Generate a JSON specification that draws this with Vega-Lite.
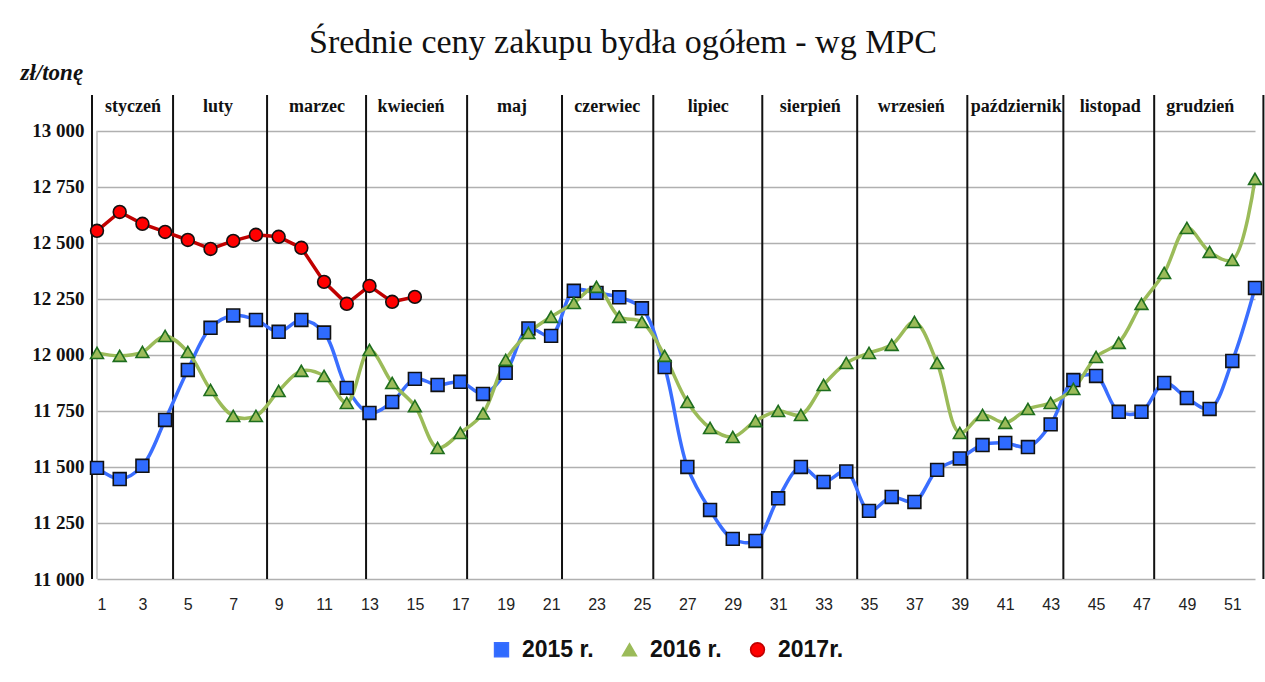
{
  "$schema": "https://vega.github.io/schema/vega-lite/v6.json",
  "autosize": {"type": "none"},
  "width": 1158,
  "height": 484,
  "padding": {"left": 97, "top": 95, "right": 10, "bottom": 103},
  "background": "white",
  "title": {
    "text": "Średnie ceny zakupu bydła ogółem - wg MPC",
    "font": "Liberation Serif",
    "fontSize": 34,
    "fontWeight": "normal",
    "color": "#111111",
    "anchor": "middle",
    "frame": "group",
    "baseline": "alphabetic",
    "offset": -26,
    "dx": -53
  },
  "config": {
    "view": {"stroke": null},
    "axis": {"labelColor": "#111111", "titleColor": "#111111"}
  },
  "datasets": {
    "prices": [
      {"week": 1, "series": "2015 r.", "value": 11496},
      {"week": 2, "series": "2015 r.", "value": 11446},
      {"week": 3, "series": "2015 r.", "value": 11505},
      {"week": 4, "series": "2015 r.", "value": 11710},
      {"week": 5, "series": "2015 r.", "value": 11933},
      {"week": 6, "series": "2015 r.", "value": 12121},
      {"week": 7, "series": "2015 r.", "value": 12176},
      {"week": 8, "series": "2015 r.", "value": 12156},
      {"week": 9, "series": "2015 r.", "value": 12103},
      {"week": 10, "series": "2015 r.", "value": 12156},
      {"week": 11, "series": "2015 r.", "value": 12100},
      {"week": 12, "series": "2015 r.", "value": 11853},
      {"week": 13, "series": "2015 r.", "value": 11741},
      {"week": 14, "series": "2015 r.", "value": 11790},
      {"week": 15, "series": "2015 r.", "value": 11893},
      {"week": 16, "series": "2015 r.", "value": 11866},
      {"week": 17, "series": "2015 r.", "value": 11880},
      {"week": 18, "series": "2015 r.", "value": 11826},
      {"week": 19, "series": "2015 r.", "value": 11920},
      {"week": 20, "series": "2015 r.", "value": 12118},
      {"week": 21, "series": "2015 r.", "value": 12085},
      {"week": 22, "series": "2015 r.", "value": 12286},
      {"week": 23, "series": "2015 r.", "value": 12277},
      {"week": 24, "series": "2015 r.", "value": 12257},
      {"week": 25, "series": "2015 r.", "value": 12208},
      {"week": 26, "series": "2015 r.", "value": 11946},
      {"week": 27, "series": "2015 r.", "value": 11500},
      {"week": 28, "series": "2015 r.", "value": 11308},
      {"week": 29, "series": "2015 r.", "value": 11179},
      {"week": 30, "series": "2015 r.", "value": 11170},
      {"week": 31, "series": "2015 r.", "value": 11360},
      {"week": 32, "series": "2015 r.", "value": 11500},
      {"week": 33, "series": "2015 r.", "value": 11433},
      {"week": 34, "series": "2015 r.", "value": 11480},
      {"week": 35, "series": "2015 r.", "value": 11304},
      {"week": 36, "series": "2015 r.", "value": 11366},
      {"week": 37, "series": "2015 r.", "value": 11344},
      {"week": 38, "series": "2015 r.", "value": 11487},
      {"week": 39, "series": "2015 r.", "value": 11538},
      {"week": 40, "series": "2015 r.", "value": 11598},
      {"week": 41, "series": "2015 r.", "value": 11607},
      {"week": 42, "series": "2015 r.", "value": 11589},
      {"week": 43, "series": "2015 r.", "value": 11690},
      {"week": 44, "series": "2015 r.", "value": 11888},
      {"week": 45, "series": "2015 r.", "value": 11906},
      {"week": 46, "series": "2015 r.", "value": 11746},
      {"week": 47, "series": "2015 r.", "value": 11746},
      {"week": 48, "series": "2015 r.", "value": 11875},
      {"week": 49, "series": "2015 r.", "value": 11808},
      {"week": 50, "series": "2015 r.", "value": 11759},
      {"week": 51, "series": "2015 r.", "value": 11973},
      {"week": 52, "series": "2015 r.", "value": 12299},
      {"week": 1, "series": "2016 r.", "value": 12009},
      {"week": 2, "series": "2016 r.", "value": 11996},
      {"week": 3, "series": "2016 r.", "value": 12013},
      {"week": 4, "series": "2016 r.", "value": 12085},
      {"week": 5, "series": "2016 r.", "value": 12013},
      {"week": 6, "series": "2016 r.", "value": 11844},
      {"week": 7, "series": "2016 r.", "value": 11728},
      {"week": 8, "series": "2016 r.", "value": 11728},
      {"week": 9, "series": "2016 r.", "value": 11839},
      {"week": 10, "series": "2016 r.", "value": 11929},
      {"week": 11, "series": "2016 r.", "value": 11906},
      {"week": 12, "series": "2016 r.", "value": 11786},
      {"week": 13, "series": "2016 r.", "value": 12022},
      {"week": 14, "series": "2016 r.", "value": 11875},
      {"week": 15, "series": "2016 r.", "value": 11772},
      {"week": 16, "series": "2016 r.", "value": 11585},
      {"week": 17, "series": "2016 r.", "value": 11652},
      {"week": 18, "series": "2016 r.", "value": 11739},
      {"week": 19, "series": "2016 r.", "value": 11978},
      {"week": 20, "series": "2016 r.", "value": 12098},
      {"week": 21, "series": "2016 r.", "value": 12170},
      {"week": 22, "series": "2016 r.", "value": 12232},
      {"week": 23, "series": "2016 r.", "value": 12304},
      {"week": 24, "series": "2016 r.", "value": 12170},
      {"week": 25, "series": "2016 r.", "value": 12147},
      {"week": 26, "series": "2016 r.", "value": 11996},
      {"week": 27, "series": "2016 r.", "value": 11790},
      {"week": 28, "series": "2016 r.", "value": 11674},
      {"week": 29, "series": "2016 r.", "value": 11634},
      {"week": 30, "series": "2016 r.", "value": 11705},
      {"week": 31, "series": "2016 r.", "value": 11750},
      {"week": 32, "series": "2016 r.", "value": 11732},
      {"week": 33, "series": "2016 r.", "value": 11866},
      {"week": 34, "series": "2016 r.", "value": 11964},
      {"week": 35, "series": "2016 r.", "value": 12009},
      {"week": 36, "series": "2016 r.", "value": 12045},
      {"week": 37, "series": "2016 r.", "value": 12147},
      {"week": 38, "series": "2016 r.", "value": 11964},
      {"week": 39, "series": "2016 r.", "value": 11652},
      {"week": 40, "series": "2016 r.", "value": 11732},
      {"week": 41, "series": "2016 r.", "value": 11697},
      {"week": 42, "series": "2016 r.", "value": 11759},
      {"week": 43, "series": "2016 r.", "value": 11786},
      {"week": 44, "series": "2016 r.", "value": 11848},
      {"week": 45, "series": "2016 r.", "value": 11991},
      {"week": 46, "series": "2016 r.", "value": 12054},
      {"week": 47, "series": "2016 r.", "value": 12228},
      {"week": 48, "series": "2016 r.", "value": 12366},
      {"week": 49, "series": "2016 r.", "value": 12567},
      {"week": 50, "series": "2016 r.", "value": 12460},
      {"week": 51, "series": "2016 r.", "value": 12424},
      {"week": 52, "series": "2016 r.", "value": 12786},
      {"week": 1, "series": "2017r.", "value": 12554},
      {"week": 2, "series": "2017r.", "value": 12638},
      {"week": 3, "series": "2017r.", "value": 12585},
      {"week": 4, "series": "2017r.", "value": 12549},
      {"week": 5, "series": "2017r.", "value": 12513},
      {"week": 6, "series": "2017r.", "value": 12473},
      {"week": 7, "series": "2017r.", "value": 12509},
      {"week": 8, "series": "2017r.", "value": 12536},
      {"week": 9, "series": "2017r.", "value": 12527},
      {"week": 10, "series": "2017r.", "value": 12478},
      {"week": 11, "series": "2017r.", "value": 12326},
      {"week": 12, "series": "2017r.", "value": 12228},
      {"week": 13, "series": "2017r.", "value": 12308},
      {"week": 14, "series": "2017r.", "value": 12237},
      {"week": 15, "series": "2017r.", "value": 12259}
    ],
    "months": [
      {"month": "styczeń", "center": 2.59},
      {"month": "luty", "center": 6.33},
      {"month": "marzec", "center": 10.69},
      {"month": "kwiecień", "center": 14.83},
      {"month": "maj", "center": 19.28},
      {"month": "czerwiec", "center": 23.47},
      {"month": "lipiec", "center": 27.92},
      {"month": "sierpień", "center": 32.41},
      {"month": "wrzesień", "center": 36.86},
      {"month": "październik", "center": 41.48},
      {"month": "listopad", "center": 45.63},
      {"month": "grudzień", "center": 49.59}
    ],
    "bounds": [
      {"boundary": 0.78}, {"boundary": 4.35}, {"boundary": 8.49}, {"boundary": 12.85},
      {"boundary": 17.3}, {"boundary": 21.48}, {"boundary": 25.5}, {"boundary": 30.3},
      {"boundary": 34.48}, {"boundary": 39.33}, {"boundary": 43.56}, {"boundary": 47.56},
      {"boundary": 52.37}
    ]
  },
  "layer": [
    {
      "data": {"name": "bounds"},
      "mark": {"type": "rule", "color": "#111111", "strokeWidth": 2},
      "encoding": {
        "x": {"field": "boundary", "type": "quantitative", "scale": {"domain": [1, 52], "nice": false, "zero": false},
          "axis": {"values": [1,3,5,7,9,11,13,15,17,19,21,23,25,27,29,31,33,35,37,39,41,43,45,47,49,51], "title": null, "grid": false, "domain": false, "ticks": false, "labelFont": "Liberation Sans", "labelFontSize": 16, "labelPadding": 17, "labelColor": "#222222"}}
      }
    },
    {
      "data": {"values": [{}]},
      "mark": {"type": "rule", "color": "#b0b0b0", "strokeWidth": 1.3},
      "encoding": {
        "x": {"datum": 1, "type": "quantitative"},
        "y": {"datum": 11000, "type": "quantitative"},
        "y2": {"datum": 13000}
      }
    },
    {
      "data": {"name": "months"},
      "mark": {"type": "text", "font": "Liberation Serif", "fontWeight": "bold", "fontSize": 18, "color": "#111111", "baseline": "middle"},
      "encoding": {
        "x": {"field": "center", "type": "quantitative"},
        "y": {"datum": 13107, "type": "quantitative"},
        "text": {"field": "month"}
      }
    },
    {
      "data": {"name": "prices"},
      "transform": [{"filter": "datum.series !== '2017r.'"}],
      "mark": {"type": "line", "interpolate": "catmull-rom", "strokeWidth": 3.5},
      "encoding": {
        "x": {"field": "week", "type": "quantitative"},
        "y": {"field": "value", "type": "quantitative",
          "scale": {"domain": [11000, 13160], "nice": false, "zero": false},
          "axis": {"values": [11000, 11250, 11500, 11750, 12000, 12250, 12500, 12750, 13000],
            "labelExpr": "replace(format(datum.value, ','), ',', ' ')",
            "grid": true, "gridColor": "#b0b0b0", "gridWidth": 1.3, "domain": false, "ticks": false,
            "labelFont": "Liberation Serif", "labelFontWeight": "bold", "labelFontSize": 19, "labelPadding": 13,
            "title": "zł/tonę", "titleAngle": 0, "titleX": -77, "titleY": -23, "titleAlign": "left", "titleBaseline": "middle",
            "titleFont": "Liberation Serif", "titleFontStyle": "italic", "titleFontWeight": "bold", "titleFontSize": 23}},
        "color": {"field": "series", "type": "nominal",
          "scale": {"domain": ["2015 r.", "2016 r.", "2017r."], "range": ["#3A6EFF", "#9BBB59", "#C00000"]},
          "legend": {"orient": "none", "legendX": 393, "legendY": 543, "direction": "horizontal", "title": null,
            "labelFont": "Liberation Sans", "labelFontWeight": "bold", "labelFontSize": 23, "labelColor": "#111111",
            "symbolSize": 190, "symbolStrokeWidth": 1.6, "labelOffset": 9, "columnPadding": 24,
            "encode": {"symbols": {"update": {"stroke": {"signal": "datum.value === '2016 r.' ? '#1E6E1E' : '#222222'"}, "strokeWidth": {"value": 1.6}}}}}},
        "detail": {"field": "series"}
      }
    },
    {
      "data": {"name": "prices"},
      "transform": [{"filter": "datum.series === '2017r.'"}],
      "mark": {"type": "line", "strokeWidth": 3.5},
      "encoding": {
        "x": {"field": "week", "type": "quantitative"},
        "y": {"field": "value", "type": "quantitative"},
        "color": {"field": "series", "type": "nominal"}
      }
    },
    {
      "data": {"name": "prices"},
      "mark": {"type": "point", "filled": true, "size": 165, "strokeWidth": 1.6, "opacity": 1},
      "encoding": {
        "x": {"field": "week", "type": "quantitative"},
        "y": {"field": "value", "type": "quantitative"},
        "shape": {"field": "series", "type": "nominal",
          "scale": {"domain": ["2015 r.", "2016 r.", "2017r."], "range": ["square", "triangle-up", "circle"]}},
        "fill": {"field": "series", "type": "nominal",
          "scale": {"domain": ["2015 r.", "2016 r.", "2017r."], "range": ["#2F6BFF", "#9BBB59", "#FF0000"]}},
        "stroke": {"field": "series", "type": "nominal",
          "scale": {"domain": ["2015 r.", "2016 r.", "2017r."], "range": ["#111111", "#1E6E1E", "#111111"]}}
      }
    }
  ]
}
